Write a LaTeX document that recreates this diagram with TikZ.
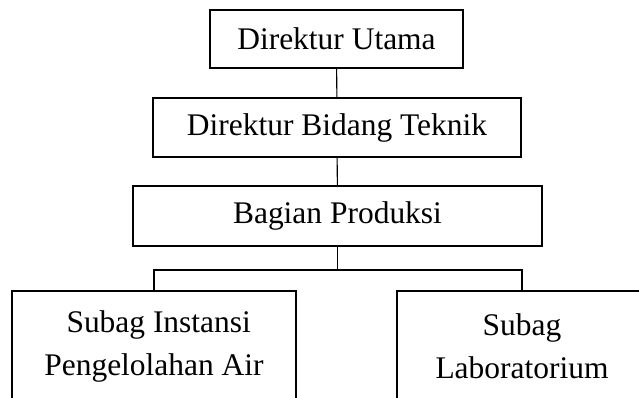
\documentclass[tikz,border=0pt]{standalone}
\usepackage{fontspec}
\setmainfont{Liberation Serif}
\usetikzlibrary{positioning}
\begin{document}
\begin{tikzpicture}[x=0.75pt,y=0.75pt,yscale=-1,xscale=1,
  orgbox/.style={draw, line width=1.6pt, inner sep=0pt, align=center,
    font=\fontsize{23.6}{32.25}\selectfont},
  orgline/.style={draw, line width=0.8pt}]
%set diagram size to the reference
\useasboundingbox (0,0) rectangle (639,398);
\clip (0,0) rectangle (639,398);

%Boxes
\node [orgbox, minimum width=189.75pt, minimum height=43.5pt] (utama) at (336.5,39) {Direktur Utama};
\node [orgbox, minimum width=276pt, minimum height=44.25pt] (teknik) at (337,127.5) {Direktur Bidang Teknik};
\node [orgbox, minimum width=306.75pt, minimum height=45pt] (produksi) at (337.5,216) {Bagian Produksi};
\node [orgbox, minimum width=213pt, minimum height=82.5pt] (instansi) at (154,346) {\hspace{0.3em}Subag Instansi\\Pengelolahan Air};
%right box runs past the edge
\node [orgbox, text width=225pt, align=left, minimum height=82.5pt] (lab) at (547,346) {\makebox[187.5pt]{Subag}\\\makebox[187.5pt]{Laboratorium}};

%Connectors
\coordinate (split) at (337.5,270);
\draw [orgline] (utama) -- (teknik);
\draw [orgline] (teknik) -- (produksi);
\draw [orgline] (produksi) -- (split);
\draw [orgline] (split) -| (instansi.north);
\draw [orgline] (split) -| ([xshift=-18.75pt]lab.north);

\end{tikzpicture}
\end{document}
